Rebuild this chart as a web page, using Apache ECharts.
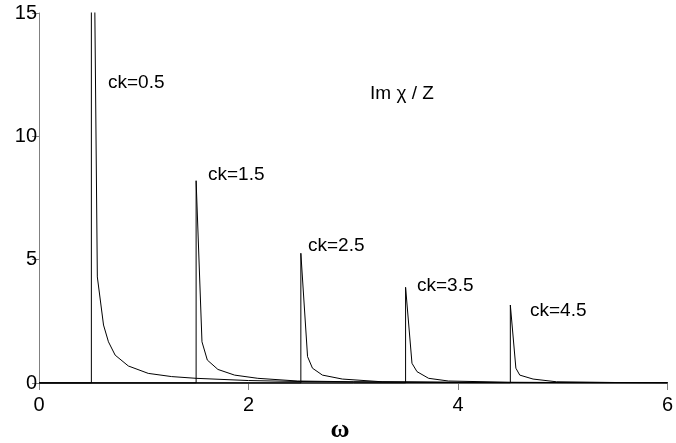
<!DOCTYPE html>
<html>
<head>
<meta charset="utf-8">
<script src="https://cdn.jsdelivr.net/npm/echarts@6/dist/echarts.min.js"></script>
<style>
  html, body { margin: 0; padding: 0; background: #fff; }
  #main { width: 676px; height: 443px; }
</style>
</head>
<body>
<div id="main"></div>
<script>
// values, one pair of arrays per curve
var omega05 = [0, 0.5, 0.5, 0.557, 0.616, 0.663, 0.727, 0.853, 1.043, 1.266, 1.5, 2.0, 2.5, 3, 4, 5, 6];
var im05    = [0, 0, 30, 4.3, 2.35, 1.67, 1.13, 0.69, 0.39, 0.26, 0.19, 0.1, 0.06, 0.04, 0.02, 0.012, 0.008];

var omega15 = [0, 1.5, 1.5, 1.556, 1.607, 1.708, 1.867, 2.089, 2.47, 3, 4, 5, 6];
var im15    = [0, 0, 8.2, 1.67, 0.93, 0.55, 0.32, 0.19, 0.08, 0.05, 0.025, 0.015, 0.01];

var omega25 = [0, 2.5, 2.5, 2.564, 2.611, 2.706, 2.896, 3.276, 4, 5, 6];
var im25    = [0, 0, 5.26, 1.07, 0.6, 0.32, 0.16, 0.05, 0.025, 0.012, 0.008];

var omega35 = [0, 3.5, 3.5, 3.561, 3.609, 3.72, 3.91, 4.5, 5, 6];
var im35    = [0, 0, 3.88, 0.8, 0.46, 0.19, 0.08, 0.03, 0.02, 0.01];

var omega45 = [0, 4.5, 4.5, 4.553, 4.59, 4.717, 4.94, 5.5, 6];
var im45    = [0, 0, 3.16, 0.6, 0.32, 0.16, 0.05, 0.02, 0.01];

var xTicks = [0, 2, 4, 6];
var yTicks = [0, 5, 10, 15];

function pairs(xs, ys) {
    return xs.map(function (x, i) { return [x, ys[i]]; });
}

var curves = [
    pairs(omega05, im05),
    pairs(omega15, im15),
    pairs(omega25, im25),
    pairs(omega35, im35),
    pairs(omega45, im45)
];

var font = '"Liberation Sans", Arial, sans-serif';
var grey = '#808080';

var myChart = echarts.init(document.getElementById('main'));
var option = {
    animation: false,
    backgroundColor: '#fff',
    grid: { left: 39, right: 6, top: 13, bottom: 60 },
    xAxis: {
        type: 'value',
        min: xTicks[0],
        max: xTicks[xTicks.length - 1],
        interval: xTicks[1] - xTicks[0],
        axisLine: { lineStyle: { color: grey, width: 1 } },
        axisTick: { length: 7, lineStyle: { color: grey } },
        axisLabel: { fontSize: 20, color: '#000', fontFamily: font, margin: 12 },
        splitLine: { show: false }
    },
    yAxis: {
        type: 'value',
        min: yTicks[0],
        max: yTicks[yTicks.length - 1],
        interval: yTicks[1] - yTicks[0],
        axisLine: { show: true, lineStyle: { color: grey, width: 1 } },
        axisTick: { show: true, length: 7, lineStyle: { color: grey } },
        axisLabel: { fontSize: 20, color: '#000', fontFamily: font, margin: 2 },
        splitLine: { show: false }
    },
    series: curves.map(function (d) {
        return {
            type: 'line',
            data: d,
            showSymbol: false,
            clip: true,
            lineStyle: { color: '#000', width: 1 }
        };
    }),
    graphic: [
        { type: 'text', style: { text: 'ck=0.5', x: 108, y: 83, textVerticalAlign: 'middle', font: '19px ' + font, fill: '#000' } },
        { type: 'text', style: { text: 'ck=1.5', x: 208, y: 175, textVerticalAlign: 'middle', font: '19px ' + font, fill: '#000' } },
        { type: 'text', style: { text: 'ck=2.5', x: 308, y: 246, textVerticalAlign: 'middle', font: '19px ' + font, fill: '#000' } },
        { type: 'text', style: { text: 'ck=3.5', x: 417, y: 286, textVerticalAlign: 'middle', font: '19px ' + font, fill: '#000' } },
        { type: 'text', style: { text: 'ck=4.5', x: 530, y: 311, textVerticalAlign: 'middle', font: '19px ' + font, fill: '#000' } },
        { type: 'text', style: { text: 'Im χ / Z', x: 370, y: 94, textVerticalAlign: 'middle', font: '19px ' + font, fill: '#000' } },
        { type: 'text', style: { text: 'ω', x: 340, y: 430, textAlign: 'center', textVerticalAlign: 'middle', font: 'bold 26px "Liberation Serif", serif', fill: '#000' } }
    ]
};
myChart.setOption(option);
</script>
</body>
</html>
